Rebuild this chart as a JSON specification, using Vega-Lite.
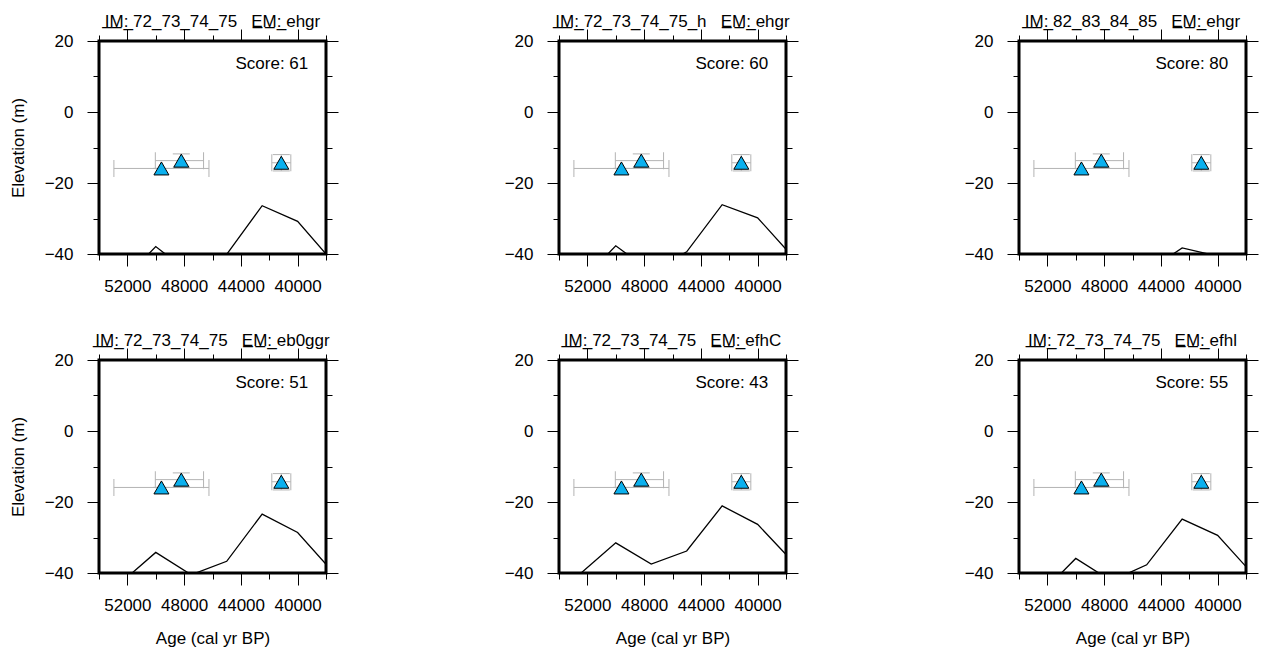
{
  "$schema": "https://vega.github.io/schema/vega-lite/v6.json",
  "background": "white",
  "padding": {"left": 7, "top": 11, "right": 2, "bottom": 2},
  "bounds": "flush",
  "columns": 3,
  "spacing": {"row": 106, "column": 233},
  "datasets": {
    "model": [
      {"panel": 1, "age": 55000, "elev": -52}, {"panel": 1, "age": 52500, "elev": -48.3}, {"panel": 1, "age": 50000, "elev": -37.9}, {"panel": 1, "age": 47500, "elev": -45.7}, {"panel": 1, "age": 45000, "elev": -40.1}, {"panel": 1, "age": 42500, "elev": -26.4}, {"panel": 1, "age": 40000, "elev": -30.8}, {"panel": 1, "age": 37500, "elev": -42.3},
      {"panel": 2, "age": 55000, "elev": -52}, {"panel": 2, "age": 52500, "elev": -48}, {"panel": 2, "age": 50000, "elev": -37.7}, {"panel": 2, "age": 47500, "elev": -45}, {"panel": 2, "age": 45000, "elev": -39.4}, {"panel": 2, "age": 42500, "elev": -26.1}, {"panel": 2, "age": 40000, "elev": -29.8}, {"panel": 2, "age": 37500, "elev": -40.9},
      {"panel": 3, "age": 55000, "elev": -55}, {"panel": 3, "age": 52500, "elev": -52}, {"panel": 3, "age": 50000, "elev": -45}, {"panel": 3, "age": 47500, "elev": -50}, {"panel": 3, "age": 45000, "elev": -45}, {"panel": 3, "age": 42500, "elev": -38.3}, {"panel": 3, "age": 40000, "elev": -40.6}, {"panel": 3, "age": 37500, "elev": -48},
      {"panel": 4, "age": 55000, "elev": -46}, {"panel": 4, "age": 52500, "elev": -42.9}, {"panel": 4, "age": 50000, "elev": -34.2}, {"panel": 4, "age": 47500, "elev": -40.5}, {"panel": 4, "age": 45000, "elev": -36.7}, {"panel": 4, "age": 42500, "elev": -23.4}, {"panel": 4, "age": 40000, "elev": -28.6}, {"panel": 4, "age": 37500, "elev": -39.8},
      {"panel": 5, "age": 55000, "elev": -48}, {"panel": 5, "age": 52500, "elev": -40.2}, {"panel": 5, "age": 50000, "elev": -31.5}, {"panel": 5, "age": 47500, "elev": -37.5}, {"panel": 5, "age": 45000, "elev": -33.8}, {"panel": 5, "age": 42500, "elev": -21.1}, {"panel": 5, "age": 40000, "elev": -26.3}, {"panel": 5, "age": 37500, "elev": -36.9},
      {"panel": 6, "age": 55000, "elev": -52}, {"panel": 6, "age": 52500, "elev": -46}, {"panel": 6, "age": 50000, "elev": -35.9}, {"panel": 6, "age": 47500, "elev": -42.2}, {"panel": 6, "age": 45000, "elev": -37.7}, {"panel": 6, "age": 42500, "elev": -24.8}, {"panel": 6, "age": 40000, "elev": -29.4}, {"panel": 6, "age": 37500, "elev": -40.4}
    ],
    "pts": [
      {"age": 49600, "xlo": 52950, "xhi": 46250, "elev": -15.9, "ylo": -15.9, "yhi": -15.9},
      {"age": 48200, "xlo": 50030, "xhi": 46630, "elev": -13.7, "ylo": -15.6, "yhi": -11.8},
      {"age": 41150, "xlo": 41820, "xhi": 40480, "elev": -14.3, "ylo": -16.6, "yhi": -12.0}
    ],
    "meta": [
      {"panel": 1, "label": "Score: 61"},
      {"panel": 2, "label": "Score: 60"},
      {"panel": 3, "label": "Score: 80"},
      {"panel": 4, "label": "Score: 51"},
      {"panel": 5, "label": "Score: 43"},
      {"panel": 6, "label": "Score: 55"}
    ]
  },
  "concat": [
    {
      "width": 227, "height": 213,
      "title": {"text": "I\u0332M\u0332:\u0332 72_73_74_75\u00a0\u00a0\u00a0E\u0332M\u0332:\u0332 ehgr"},
      "resolve": {"axis": {"x": "independent", "y": "independent"}},
      "layer": [
        {"data": {"name": "model"}, "transform": [{"filter": "datum.panel === 1"}],
         "mark": {"type": "line", "color": "black", "strokeWidth": 1.3, "clip": true},
         "encoding": {
           "x": {"field": "age", "type": "quantitative", "scale": {"domain": [38000, 54000], "reverse": true, "nice": false, "zero": false},
                 "axis": {"orient": "bottom", "title": null, "values": [38000, 40000, 42000, 44000, 46000, 48000, 50000, 52000, 54000], "format": "d", "labelExpr": "datum.value % 4000 === 0 ? datum.label : ''", "tickSize": {"condition": {"test": "datum.value % 4000 === 0", "value": 12}, "value": 6}}},
           "y": {"field": "elev", "type": "quantitative", "scale": {"domain": [-40, 20], "nice": false, "zero": false},
                 "axis": {"orient": "left", "title": "Elevation (m)", "labelPadding": 14, "values": [-40, -30, -20, -10, 0, 10, 20], "format": "d", "labelExpr": "datum.value % 20 === 0 ? datum.label : ''", "tickSize": {"condition": {"test": "datum.value % 20 === 0", "value": 12}, "value": 6}}}
         }},
        {"data": {"name": "pts"}, "mark": {"type": "rule", "color": "#b3b3b3", "strokeWidth": 1},
         "encoding": {"x": {"field": "xlo", "type": "quantitative", "axis": null}, "x2": {"field": "xhi"}, "y": {"field": "elev", "type": "quantitative", "axis": null}}},
        {"data": {"name": "pts"}, "mark": {"type": "rule", "color": "#b3b3b3", "strokeWidth": 1},
         "encoding": {"x": {"field": "age", "type": "quantitative", "axis": null}, "y": {"field": "ylo", "type": "quantitative", "axis": null}, "y2": {"field": "yhi"}}},
        {"data": {"name": "pts"}, "mark": {"type": "tick", "orient": "vertical", "size": 17, "thickness": 1, "color": "#b3b3b3", "opacity": 1},
         "encoding": {"x": {"field": "xlo", "type": "quantitative", "axis": null}, "y": {"field": "elev", "type": "quantitative", "axis": null}}},
        {"data": {"name": "pts"}, "mark": {"type": "tick", "orient": "vertical", "size": 17, "thickness": 1, "color": "#b3b3b3", "opacity": 1},
         "encoding": {"x": {"field": "xhi", "type": "quantitative", "axis": null}, "y": {"field": "elev", "type": "quantitative", "axis": null}}},
        {"data": {"name": "pts"}, "mark": {"type": "tick", "orient": "horizontal", "size": 17, "thickness": 1, "color": "#b3b3b3", "opacity": 1},
         "encoding": {"x": {"field": "age", "type": "quantitative", "axis": null}, "y": {"field": "ylo", "type": "quantitative", "axis": null}}},
        {"data": {"name": "pts"}, "mark": {"type": "tick", "orient": "horizontal", "size": 17, "thickness": 1, "color": "#b3b3b3", "opacity": 1},
         "encoding": {"x": {"field": "age", "type": "quantitative", "axis": null}, "y": {"field": "yhi", "type": "quantitative", "axis": null}}},
        {"data": {"name": "pts"}, "mark": {"type": "point", "shape": "triangle-up", "size": 225, "filled": true, "fill": "#0bb0ee", "stroke": "black", "strokeWidth": 1, "opacity": 1},
         "encoding": {
           "x": {"field": "age", "type": "quantitative", "axis": {"orient": "top", "title": null, "labels": false, "values": [38000, 40000, 42000, 44000, 46000, 48000, 50000, 52000, 54000], "tickSize": {"condition": {"test": "datum.value % 4000 === 0", "value": 12}, "value": 6}}},
           "y": {"field": "elev", "type": "quantitative", "axis": {"orient": "right", "title": null, "labels": false, "values": [-40, -30, -20, -10, 0, 10, 20], "tickSize": {"condition": {"test": "datum.value % 20 === 0", "value": 12}, "value": 6}}}
         }},
        {"data": {"name": "meta"}, "transform": [{"filter": "datum.panel === 1"}],
         "mark": {"type": "text", "align": "right", "baseline": "alphabetic", "fontSize": 17, "color": "black"},
         "encoding": {"x": {"datum": 39250, "type": "quantitative", "axis": null}, "y": {"datum": 12.2, "type": "quantitative", "axis": null}, "text": {"field": "label"}}}
      ]
    },
    {
      "width": 227, "height": 213,
      "title": {"text": "I\u0332M\u0332:\u0332 72_73_74_75_h\u00a0\u00a0\u00a0E\u0332M\u0332:\u0332 ehgr"},
      "resolve": {"axis": {"x": "independent", "y": "independent"}},
      "layer": [
        {"data": {"name": "model"}, "transform": [{"filter": "datum.panel === 2"}],
         "mark": {"type": "line", "color": "black", "strokeWidth": 1.3, "clip": true},
         "encoding": {
           "x": {"field": "age", "type": "quantitative", "scale": {"domain": [38000, 54000], "reverse": true, "nice": false, "zero": false},
                 "axis": {"orient": "bottom", "title": null, "values": [38000, 40000, 42000, 44000, 46000, 48000, 50000, 52000, 54000], "format": "d", "labelExpr": "datum.value % 4000 === 0 ? datum.label : ''", "tickSize": {"condition": {"test": "datum.value % 4000 === 0", "value": 12}, "value": 6}}},
           "y": {"field": "elev", "type": "quantitative", "scale": {"domain": [-40, 20], "nice": false, "zero": false},
                 "axis": {"orient": "left", "title": null, "labelPadding": 14, "values": [-40, -30, -20, -10, 0, 10, 20], "format": "d", "labelExpr": "datum.value % 20 === 0 ? datum.label : ''", "tickSize": {"condition": {"test": "datum.value % 20 === 0", "value": 12}, "value": 6}}}
         }},
        {"data": {"name": "pts"}, "mark": {"type": "rule", "color": "#b3b3b3", "strokeWidth": 1},
         "encoding": {"x": {"field": "xlo", "type": "quantitative", "axis": null}, "x2": {"field": "xhi"}, "y": {"field": "elev", "type": "quantitative", "axis": null}}},
        {"data": {"name": "pts"}, "mark": {"type": "rule", "color": "#b3b3b3", "strokeWidth": 1},
         "encoding": {"x": {"field": "age", "type": "quantitative", "axis": null}, "y": {"field": "ylo", "type": "quantitative", "axis": null}, "y2": {"field": "yhi"}}},
        {"data": {"name": "pts"}, "mark": {"type": "tick", "orient": "vertical", "size": 17, "thickness": 1, "color": "#b3b3b3", "opacity": 1},
         "encoding": {"x": {"field": "xlo", "type": "quantitative", "axis": null}, "y": {"field": "elev", "type": "quantitative", "axis": null}}},
        {"data": {"name": "pts"}, "mark": {"type": "tick", "orient": "vertical", "size": 17, "thickness": 1, "color": "#b3b3b3", "opacity": 1},
         "encoding": {"x": {"field": "xhi", "type": "quantitative", "axis": null}, "y": {"field": "elev", "type": "quantitative", "axis": null}}},
        {"data": {"name": "pts"}, "mark": {"type": "tick", "orient": "horizontal", "size": 17, "thickness": 1, "color": "#b3b3b3", "opacity": 1},
         "encoding": {"x": {"field": "age", "type": "quantitative", "axis": null}, "y": {"field": "ylo", "type": "quantitative", "axis": null}}},
        {"data": {"name": "pts"}, "mark": {"type": "tick", "orient": "horizontal", "size": 17, "thickness": 1, "color": "#b3b3b3", "opacity": 1},
         "encoding": {"x": {"field": "age", "type": "quantitative", "axis": null}, "y": {"field": "yhi", "type": "quantitative", "axis": null}}},
        {"data": {"name": "pts"}, "mark": {"type": "point", "shape": "triangle-up", "size": 225, "filled": true, "fill": "#0bb0ee", "stroke": "black", "strokeWidth": 1, "opacity": 1},
         "encoding": {
           "x": {"field": "age", "type": "quantitative", "axis": {"orient": "top", "title": null, "labels": false, "values": [38000, 40000, 42000, 44000, 46000, 48000, 50000, 52000, 54000], "tickSize": {"condition": {"test": "datum.value % 4000 === 0", "value": 12}, "value": 6}}},
           "y": {"field": "elev", "type": "quantitative", "axis": {"orient": "right", "title": null, "labels": false, "values": [-40, -30, -20, -10, 0, 10, 20], "tickSize": {"condition": {"test": "datum.value % 20 === 0", "value": 12}, "value": 6}}}
         }},
        {"data": {"name": "meta"}, "transform": [{"filter": "datum.panel === 2"}],
         "mark": {"type": "text", "align": "right", "baseline": "alphabetic", "fontSize": 17, "color": "black"},
         "encoding": {"x": {"datum": 39250, "type": "quantitative", "axis": null}, "y": {"datum": 12.2, "type": "quantitative", "axis": null}, "text": {"field": "label"}}}
      ]
    },
    {
      "width": 227, "height": 213,
      "title": {"text": "I\u0332M\u0332:\u0332 82_83_84_85\u00a0\u00a0\u00a0E\u0332M\u0332:\u0332 ehgr"},
      "resolve": {"axis": {"x": "independent", "y": "independent"}},
      "layer": [
        {"data": {"name": "model"}, "transform": [{"filter": "datum.panel === 3"}],
         "mark": {"type": "line", "color": "black", "strokeWidth": 1.3, "clip": true},
         "encoding": {
           "x": {"field": "age", "type": "quantitative", "scale": {"domain": [38000, 54000], "reverse": true, "nice": false, "zero": false},
                 "axis": {"orient": "bottom", "title": null, "values": [38000, 40000, 42000, 44000, 46000, 48000, 50000, 52000, 54000], "format": "d", "labelExpr": "datum.value % 4000 === 0 ? datum.label : ''", "tickSize": {"condition": {"test": "datum.value % 4000 === 0", "value": 12}, "value": 6}}},
           "y": {"field": "elev", "type": "quantitative", "scale": {"domain": [-40, 20], "nice": false, "zero": false},
                 "axis": {"orient": "left", "title": null, "labelPadding": 14, "values": [-40, -30, -20, -10, 0, 10, 20], "format": "d", "labelExpr": "datum.value % 20 === 0 ? datum.label : ''", "tickSize": {"condition": {"test": "datum.value % 20 === 0", "value": 12}, "value": 6}}}
         }},
        {"data": {"name": "pts"}, "mark": {"type": "rule", "color": "#b3b3b3", "strokeWidth": 1},
         "encoding": {"x": {"field": "xlo", "type": "quantitative", "axis": null}, "x2": {"field": "xhi"}, "y": {"field": "elev", "type": "quantitative", "axis": null}}},
        {"data": {"name": "pts"}, "mark": {"type": "rule", "color": "#b3b3b3", "strokeWidth": 1},
         "encoding": {"x": {"field": "age", "type": "quantitative", "axis": null}, "y": {"field": "ylo", "type": "quantitative", "axis": null}, "y2": {"field": "yhi"}}},
        {"data": {"name": "pts"}, "mark": {"type": "tick", "orient": "vertical", "size": 17, "thickness": 1, "color": "#b3b3b3", "opacity": 1},
         "encoding": {"x": {"field": "xlo", "type": "quantitative", "axis": null}, "y": {"field": "elev", "type": "quantitative", "axis": null}}},
        {"data": {"name": "pts"}, "mark": {"type": "tick", "orient": "vertical", "size": 17, "thickness": 1, "color": "#b3b3b3", "opacity": 1},
         "encoding": {"x": {"field": "xhi", "type": "quantitative", "axis": null}, "y": {"field": "elev", "type": "quantitative", "axis": null}}},
        {"data": {"name": "pts"}, "mark": {"type": "tick", "orient": "horizontal", "size": 17, "thickness": 1, "color": "#b3b3b3", "opacity": 1},
         "encoding": {"x": {"field": "age", "type": "quantitative", "axis": null}, "y": {"field": "ylo", "type": "quantitative", "axis": null}}},
        {"data": {"name": "pts"}, "mark": {"type": "tick", "orient": "horizontal", "size": 17, "thickness": 1, "color": "#b3b3b3", "opacity": 1},
         "encoding": {"x": {"field": "age", "type": "quantitative", "axis": null}, "y": {"field": "yhi", "type": "quantitative", "axis": null}}},
        {"data": {"name": "pts"}, "mark": {"type": "point", "shape": "triangle-up", "size": 225, "filled": true, "fill": "#0bb0ee", "stroke": "black", "strokeWidth": 1, "opacity": 1},
         "encoding": {
           "x": {"field": "age", "type": "quantitative", "axis": {"orient": "top", "title": null, "labels": false, "values": [38000, 40000, 42000, 44000, 46000, 48000, 50000, 52000, 54000], "tickSize": {"condition": {"test": "datum.value % 4000 === 0", "value": 12}, "value": 6}}},
           "y": {"field": "elev", "type": "quantitative", "axis": {"orient": "right", "title": null, "labels": false, "values": [-40, -30, -20, -10, 0, 10, 20], "tickSize": {"condition": {"test": "datum.value % 20 === 0", "value": 12}, "value": 6}}}
         }},
        {"data": {"name": "meta"}, "transform": [{"filter": "datum.panel === 3"}],
         "mark": {"type": "text", "align": "right", "baseline": "alphabetic", "fontSize": 17, "color": "black"},
         "encoding": {"x": {"datum": 39250, "type": "quantitative", "axis": null}, "y": {"datum": 12.2, "type": "quantitative", "axis": null}, "text": {"field": "label"}}}
      ]
    },
    {
      "width": 227, "height": 213,
      "title": {"text": "I\u0332M\u0332:\u0332 72_73_74_75\u00a0\u00a0\u00a0E\u0332M\u0332:\u0332 eb0ggr"},
      "resolve": {"axis": {"x": "independent", "y": "independent"}},
      "layer": [
        {"data": {"name": "model"}, "transform": [{"filter": "datum.panel === 4"}],
         "mark": {"type": "line", "color": "black", "strokeWidth": 1.3, "clip": true},
         "encoding": {
           "x": {"field": "age", "type": "quantitative", "scale": {"domain": [38000, 54000], "reverse": true, "nice": false, "zero": false},
                 "axis": {"orient": "bottom", "title": "Age (cal yr BP)", "values": [38000, 40000, 42000, 44000, 46000, 48000, 50000, 52000, 54000], "format": "d", "labelExpr": "datum.value % 4000 === 0 ? datum.label : ''", "tickSize": {"condition": {"test": "datum.value % 4000 === 0", "value": 12}, "value": 6}}},
           "y": {"field": "elev", "type": "quantitative", "scale": {"domain": [-40, 20], "nice": false, "zero": false},
                 "axis": {"orient": "left", "title": "Elevation (m)", "labelPadding": 14, "values": [-40, -30, -20, -10, 0, 10, 20], "format": "d", "labelExpr": "datum.value % 20 === 0 ? datum.label : ''", "tickSize": {"condition": {"test": "datum.value % 20 === 0", "value": 12}, "value": 6}}}
         }},
        {"data": {"name": "pts"}, "mark": {"type": "rule", "color": "#b3b3b3", "strokeWidth": 1},
         "encoding": {"x": {"field": "xlo", "type": "quantitative", "axis": null}, "x2": {"field": "xhi"}, "y": {"field": "elev", "type": "quantitative", "axis": null}}},
        {"data": {"name": "pts"}, "mark": {"type": "rule", "color": "#b3b3b3", "strokeWidth": 1},
         "encoding": {"x": {"field": "age", "type": "quantitative", "axis": null}, "y": {"field": "ylo", "type": "quantitative", "axis": null}, "y2": {"field": "yhi"}}},
        {"data": {"name": "pts"}, "mark": {"type": "tick", "orient": "vertical", "size": 17, "thickness": 1, "color": "#b3b3b3", "opacity": 1},
         "encoding": {"x": {"field": "xlo", "type": "quantitative", "axis": null}, "y": {"field": "elev", "type": "quantitative", "axis": null}}},
        {"data": {"name": "pts"}, "mark": {"type": "tick", "orient": "vertical", "size": 17, "thickness": 1, "color": "#b3b3b3", "opacity": 1},
         "encoding": {"x": {"field": "xhi", "type": "quantitative", "axis": null}, "y": {"field": "elev", "type": "quantitative", "axis": null}}},
        {"data": {"name": "pts"}, "mark": {"type": "tick", "orient": "horizontal", "size": 17, "thickness": 1, "color": "#b3b3b3", "opacity": 1},
         "encoding": {"x": {"field": "age", "type": "quantitative", "axis": null}, "y": {"field": "ylo", "type": "quantitative", "axis": null}}},
        {"data": {"name": "pts"}, "mark": {"type": "tick", "orient": "horizontal", "size": 17, "thickness": 1, "color": "#b3b3b3", "opacity": 1},
         "encoding": {"x": {"field": "age", "type": "quantitative", "axis": null}, "y": {"field": "yhi", "type": "quantitative", "axis": null}}},
        {"data": {"name": "pts"}, "mark": {"type": "point", "shape": "triangle-up", "size": 225, "filled": true, "fill": "#0bb0ee", "stroke": "black", "strokeWidth": 1, "opacity": 1},
         "encoding": {
           "x": {"field": "age", "type": "quantitative", "axis": {"orient": "top", "title": null, "labels": false, "values": [38000, 40000, 42000, 44000, 46000, 48000, 50000, 52000, 54000], "tickSize": {"condition": {"test": "datum.value % 4000 === 0", "value": 12}, "value": 6}}},
           "y": {"field": "elev", "type": "quantitative", "axis": {"orient": "right", "title": null, "labels": false, "values": [-40, -30, -20, -10, 0, 10, 20], "tickSize": {"condition": {"test": "datum.value % 20 === 0", "value": 12}, "value": 6}}}
         }},
        {"data": {"name": "meta"}, "transform": [{"filter": "datum.panel === 4"}],
         "mark": {"type": "text", "align": "right", "baseline": "alphabetic", "fontSize": 17, "color": "black"},
         "encoding": {"x": {"datum": 39250, "type": "quantitative", "axis": null}, "y": {"datum": 12.2, "type": "quantitative", "axis": null}, "text": {"field": "label"}}}
      ]
    },
    {
      "width": 227, "height": 213,
      "title": {"text": "I\u0332M\u0332:\u0332 72_73_74_75\u00a0\u00a0\u00a0E\u0332M\u0332:\u0332 efhC"},
      "resolve": {"axis": {"x": "independent", "y": "independent"}},
      "layer": [
        {"data": {"name": "model"}, "transform": [{"filter": "datum.panel === 5"}],
         "mark": {"type": "line", "color": "black", "strokeWidth": 1.3, "clip": true},
         "encoding": {
           "x": {"field": "age", "type": "quantitative", "scale": {"domain": [38000, 54000], "reverse": true, "nice": false, "zero": false},
                 "axis": {"orient": "bottom", "title": "Age (cal yr BP)", "values": [38000, 40000, 42000, 44000, 46000, 48000, 50000, 52000, 54000], "format": "d", "labelExpr": "datum.value % 4000 === 0 ? datum.label : ''", "tickSize": {"condition": {"test": "datum.value % 4000 === 0", "value": 12}, "value": 6}}},
           "y": {"field": "elev", "type": "quantitative", "scale": {"domain": [-40, 20], "nice": false, "zero": false},
                 "axis": {"orient": "left", "title": null, "labelPadding": 14, "values": [-40, -30, -20, -10, 0, 10, 20], "format": "d", "labelExpr": "datum.value % 20 === 0 ? datum.label : ''", "tickSize": {"condition": {"test": "datum.value % 20 === 0", "value": 12}, "value": 6}}}
         }},
        {"data": {"name": "pts"}, "mark": {"type": "rule", "color": "#b3b3b3", "strokeWidth": 1},
         "encoding": {"x": {"field": "xlo", "type": "quantitative", "axis": null}, "x2": {"field": "xhi"}, "y": {"field": "elev", "type": "quantitative", "axis": null}}},
        {"data": {"name": "pts"}, "mark": {"type": "rule", "color": "#b3b3b3", "strokeWidth": 1},
         "encoding": {"x": {"field": "age", "type": "quantitative", "axis": null}, "y": {"field": "ylo", "type": "quantitative", "axis": null}, "y2": {"field": "yhi"}}},
        {"data": {"name": "pts"}, "mark": {"type": "tick", "orient": "vertical", "size": 17, "thickness": 1, "color": "#b3b3b3", "opacity": 1},
         "encoding": {"x": {"field": "xlo", "type": "quantitative", "axis": null}, "y": {"field": "elev", "type": "quantitative", "axis": null}}},
        {"data": {"name": "pts"}, "mark": {"type": "tick", "orient": "vertical", "size": 17, "thickness": 1, "color": "#b3b3b3", "opacity": 1},
         "encoding": {"x": {"field": "xhi", "type": "quantitative", "axis": null}, "y": {"field": "elev", "type": "quantitative", "axis": null}}},
        {"data": {"name": "pts"}, "mark": {"type": "tick", "orient": "horizontal", "size": 17, "thickness": 1, "color": "#b3b3b3", "opacity": 1},
         "encoding": {"x": {"field": "age", "type": "quantitative", "axis": null}, "y": {"field": "ylo", "type": "quantitative", "axis": null}}},
        {"data": {"name": "pts"}, "mark": {"type": "tick", "orient": "horizontal", "size": 17, "thickness": 1, "color": "#b3b3b3", "opacity": 1},
         "encoding": {"x": {"field": "age", "type": "quantitative", "axis": null}, "y": {"field": "yhi", "type": "quantitative", "axis": null}}},
        {"data": {"name": "pts"}, "mark": {"type": "point", "shape": "triangle-up", "size": 225, "filled": true, "fill": "#0bb0ee", "stroke": "black", "strokeWidth": 1, "opacity": 1},
         "encoding": {
           "x": {"field": "age", "type": "quantitative", "axis": {"orient": "top", "title": null, "labels": false, "values": [38000, 40000, 42000, 44000, 46000, 48000, 50000, 52000, 54000], "tickSize": {"condition": {"test": "datum.value % 4000 === 0", "value": 12}, "value": 6}}},
           "y": {"field": "elev", "type": "quantitative", "axis": {"orient": "right", "title": null, "labels": false, "values": [-40, -30, -20, -10, 0, 10, 20], "tickSize": {"condition": {"test": "datum.value % 20 === 0", "value": 12}, "value": 6}}}
         }},
        {"data": {"name": "meta"}, "transform": [{"filter": "datum.panel === 5"}],
         "mark": {"type": "text", "align": "right", "baseline": "alphabetic", "fontSize": 17, "color": "black"},
         "encoding": {"x": {"datum": 39250, "type": "quantitative", "axis": null}, "y": {"datum": 12.2, "type": "quantitative", "axis": null}, "text": {"field": "label"}}}
      ]
    },
    {
      "width": 227, "height": 213,
      "title": {"text": "I\u0332M\u0332:\u0332 72_73_74_75\u00a0\u00a0\u00a0E\u0332M\u0332:\u0332 efhl"},
      "resolve": {"axis": {"x": "independent", "y": "independent"}},
      "layer": [
        {"data": {"name": "model"}, "transform": [{"filter": "datum.panel === 6"}],
         "mark": {"type": "line", "color": "black", "strokeWidth": 1.3, "clip": true},
         "encoding": {
           "x": {"field": "age", "type": "quantitative", "scale": {"domain": [38000, 54000], "reverse": true, "nice": false, "zero": false},
                 "axis": {"orient": "bottom", "title": "Age (cal yr BP)", "values": [38000, 40000, 42000, 44000, 46000, 48000, 50000, 52000, 54000], "format": "d", "labelExpr": "datum.value % 4000 === 0 ? datum.label : ''", "tickSize": {"condition": {"test": "datum.value % 4000 === 0", "value": 12}, "value": 6}}},
           "y": {"field": "elev", "type": "quantitative", "scale": {"domain": [-40, 20], "nice": false, "zero": false},
                 "axis": {"orient": "left", "title": null, "labelPadding": 14, "values": [-40, -30, -20, -10, 0, 10, 20], "format": "d", "labelExpr": "datum.value % 20 === 0 ? datum.label : ''", "tickSize": {"condition": {"test": "datum.value % 20 === 0", "value": 12}, "value": 6}}}
         }},
        {"data": {"name": "pts"}, "mark": {"type": "rule", "color": "#b3b3b3", "strokeWidth": 1},
         "encoding": {"x": {"field": "xlo", "type": "quantitative", "axis": null}, "x2": {"field": "xhi"}, "y": {"field": "elev", "type": "quantitative", "axis": null}}},
        {"data": {"name": "pts"}, "mark": {"type": "rule", "color": "#b3b3b3", "strokeWidth": 1},
         "encoding": {"x": {"field": "age", "type": "quantitative", "axis": null}, "y": {"field": "ylo", "type": "quantitative", "axis": null}, "y2": {"field": "yhi"}}},
        {"data": {"name": "pts"}, "mark": {"type": "tick", "orient": "vertical", "size": 17, "thickness": 1, "color": "#b3b3b3", "opacity": 1},
         "encoding": {"x": {"field": "xlo", "type": "quantitative", "axis": null}, "y": {"field": "elev", "type": "quantitative", "axis": null}}},
        {"data": {"name": "pts"}, "mark": {"type": "tick", "orient": "vertical", "size": 17, "thickness": 1, "color": "#b3b3b3", "opacity": 1},
         "encoding": {"x": {"field": "xhi", "type": "quantitative", "axis": null}, "y": {"field": "elev", "type": "quantitative", "axis": null}}},
        {"data": {"name": "pts"}, "mark": {"type": "tick", "orient": "horizontal", "size": 17, "thickness": 1, "color": "#b3b3b3", "opacity": 1},
         "encoding": {"x": {"field": "age", "type": "quantitative", "axis": null}, "y": {"field": "ylo", "type": "quantitative", "axis": null}}},
        {"data": {"name": "pts"}, "mark": {"type": "tick", "orient": "horizontal", "size": 17, "thickness": 1, "color": "#b3b3b3", "opacity": 1},
         "encoding": {"x": {"field": "age", "type": "quantitative", "axis": null}, "y": {"field": "yhi", "type": "quantitative", "axis": null}}},
        {"data": {"name": "pts"}, "mark": {"type": "point", "shape": "triangle-up", "size": 225, "filled": true, "fill": "#0bb0ee", "stroke": "black", "strokeWidth": 1, "opacity": 1},
         "encoding": {
           "x": {"field": "age", "type": "quantitative", "axis": {"orient": "top", "title": null, "labels": false, "values": [38000, 40000, 42000, 44000, 46000, 48000, 50000, 52000, 54000], "tickSize": {"condition": {"test": "datum.value % 4000 === 0", "value": 12}, "value": 6}}},
           "y": {"field": "elev", "type": "quantitative", "axis": {"orient": "right", "title": null, "labels": false, "values": [-40, -30, -20, -10, 0, 10, 20], "tickSize": {"condition": {"test": "datum.value % 20 === 0", "value": 12}, "value": 6}}}
         }},
        {"data": {"name": "meta"}, "transform": [{"filter": "datum.panel === 6"}],
         "mark": {"type": "text", "align": "right", "baseline": "alphabetic", "fontSize": 17, "color": "black"},
         "encoding": {"x": {"datum": 39250, "type": "quantitative", "axis": null}, "y": {"datum": 12.2, "type": "quantitative", "axis": null}, "text": {"field": "label"}}}
      ]
    }
  ],
  "config": {
    "font": "Liberation Sans",
    "view": {"stroke": "black", "strokeWidth": 3},
    "axis": {
      "domain": false, "grid": false, "ticks": true, "tickColor": "black", "tickWidth": 1,
      "labelFont": "Liberation Sans", "labelFontSize": 17, "labelColor": "black", "labelPadding": 12,
      "labelOverlap": false, "labelFlush": false,
      "titleFont": "Liberation Sans", "titleFontSize": 17, "titleFontWeight": "normal", "titleColor": "black", "titlePadding": 17
    },
    "title": {"font": "Liberation Sans", "fontSize": 17, "fontWeight": "normal", "color": "black", "anchor": "middle", "frame": "group", "baseline": "alphabetic", "offset": 0, "dy": 6},
    "text": {"font": "Liberation Sans"}
  }
}
